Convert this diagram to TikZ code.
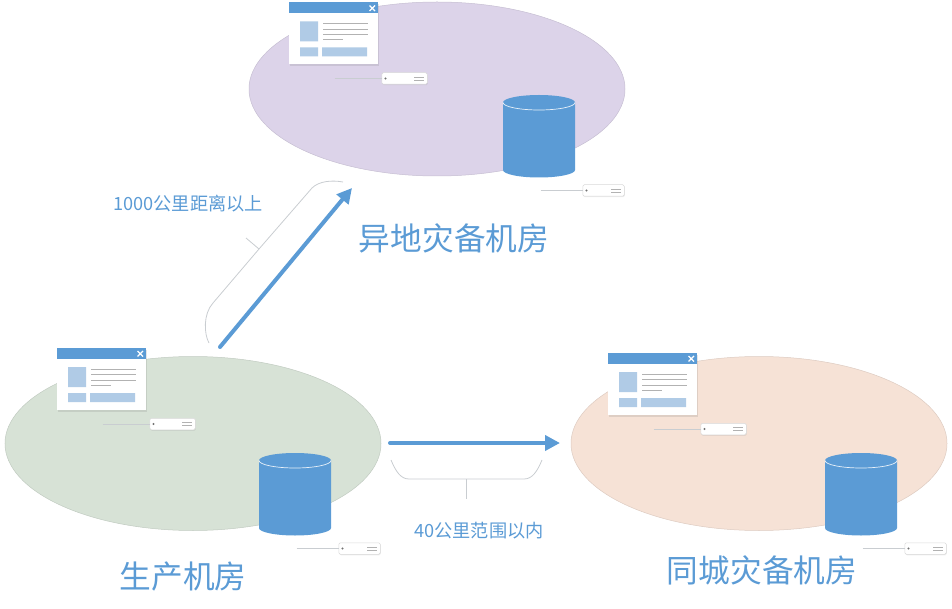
\documentclass[tikz,border=0pt]{standalone}
\usepackage{fontspec}
\setmainfont{Noto Sans CJK SC}
\usetikzlibrary{arrows.meta,shapes.geometric,shadows}
\definecolor{blu}{HTML}{5B9BD5}
\definecolor{pale}{HTML}{B0CBE6}
\definecolor{rule}{HTML}{C9CDD1}
\definecolor{farbg}{HTML}{DCD3E9}
\definecolor{mainbg}{HTML}{D7E2D6}
\definecolor{nearbg}{HTML}{F6E2D6}
\tikzset{
  room/.style={shape=ellipse,draw=#1!90!black,fill=#1,line width=.5pt,minimum width=376pt,minimum height=174pt,inner sep=0pt},
  bigtxt/.style={text=blu,font=\fontsize{31.7}{34}\selectfont,inner sep=0pt},
  smalltxt/.style={text=blu,font=\fontsize{18.2}{20}\selectfont,inner sep=0pt},
  link/.style={blu,line width=4pt,line cap=round,-{Triangle[length=15pt,width=15pt]}},
  brace/.style={rule,line width=.8pt},
  srvbody/.style={shape=rectangle,draw=black!15,fill=white,line width=.5pt,rounded corners=1.5pt,minimum height=11.5pt,inner sep=0pt,anchor=north west,drop shadow={shadow xshift=.5pt,shadow yshift=-1pt,opacity=.15}},
  % arguments: length of the lead line, width of the box
  pics/srv/.style 2 args={code={
    \node[srvbody,minimum width=#2] (-box) at (0,0) {};
    \coordinate (-lead) at (-#1,6);
    \draw[rule] (-lead) -- (-box);
    \fill[black!55] (4,6) circle (1.2pt);
    \draw[black!30,line width=.5pt] (#2-13,4.5) -- (#2-3,4.5) (#2-13,7.5) -- (#2-3,7.5);
  }},
  pics/appwin/.style={code={
    \fill[white,drop shadow={shadow xshift=.5pt,shadow yshift=-1.5pt,opacity=.2}] (0,0) rectangle (89,62);
    \fill[blu] (0,0) rectangle (89,11);
    \draw[white,line width=1.2pt] (80.5,3) -- (86,8.5) (86,3) -- (80.5,8.5);
    \fill[pale] (11,19) rectangle (29,39) (11,45) rectangle (29,54) (33,45) rectangle (78,54);
    \foreach \y in {21,26.5,32}\draw[black!30,line width=.6pt] (34,\y) -- (78.5,\y);
    \draw[black!30,line width=.6pt] (34,37) -- (53.5,37);
  }},
  pics/disk/.style={code={
    \fill[blu] (0,7.5) -- (0,75) arc[start angle=180,end angle=360,x radius=36pt,y radius=7.5pt] -- (72,7.5) -- cycle;
    \fill[blu] (36,7.5) ellipse[x radius=36pt,y radius=7.5pt];
    \draw[white!85!blu,line width=.7pt] (0,7.5) arc[start angle=180,end angle=360,x radius=36pt,y radius=7.5pt];
  }},
}
\begin{document}
\begin{tikzpicture}[x=1pt,y=-1pt]
\useasboundingbox (0,0) rectangle (952,609);
% three sites
\node[room=farbg] (far) at (437,89) {};
\node[room=mainbg] (main) at (193,443.5) {};
\node[room=nearbg] (near) at (759,443.5) {};
% equipment of each site: window x/y, disk x/y, prefix
\foreach \wx/\wy/\dx/\dy/\p in {289/2.5/503/95/f,57/348/259/453/m,608/353/825/453/n}{
  \pic (\p w) at (\wx,\wy) {appwin};
  \pic (\p a) at ({\wx+92.5},{\wy+70}) {srv={47pt}{45.5pt}};
  \pic (\p d) at (\dx,\dy) {disk};
  \pic (\p b) at ({\dx+79.5},{\dy+89.5}) {srv={42pt}{41.5pt}};
}
% replication links
\coordinate (farA) at (220,347);
\coordinate (farB) at (352,188);
\coordinate (nearA) at (390,443);
\coordinate (nearB) at (560,443);
\draw[link] (farA) -- (farB);
\draw[link] (nearA) -- (nearB);
% distance braces
\coordinate (b1) at (209,343);
\coordinate (b2) at (259,249);
\coordinate (b3) at (246,238);
\coordinate (b4) at (343,182);
\draw[brace] (b1) .. controls (204,334) and (203,314) .. (213,303) -- (b2) -- (312,188) .. controls (319,181) and (332,180) .. (b4);
\draw[brace] (b2) -- (b3);
\coordinate (c1) at (391,460);
\coordinate (c2) at (466,479);
\coordinate (c3) at (466,499);
\coordinate (c4) at (542,460);
\draw[brace] (c1) .. controls (396,472) and (401,479) .. (409,479) -- (c2) -- (524,479) .. controls (532,479) and (537,472) .. (c4);
\draw[brace] (c2) -- (c3);
% labels
\node[bigtxt] (farT) at (454,238) {异地灾备机房};
\node[bigtxt] (mainT) at (183,577) {生产机房};
\node[bigtxt] (nearT) at (762,570) {同城灾备机房};
\node[smalltxt] (farD) at (188,204) {1000公里距离以上};
\node[smalltxt] (nearD) at (479,531) {40公里范围以内};
\end{tikzpicture}
\end{document}
